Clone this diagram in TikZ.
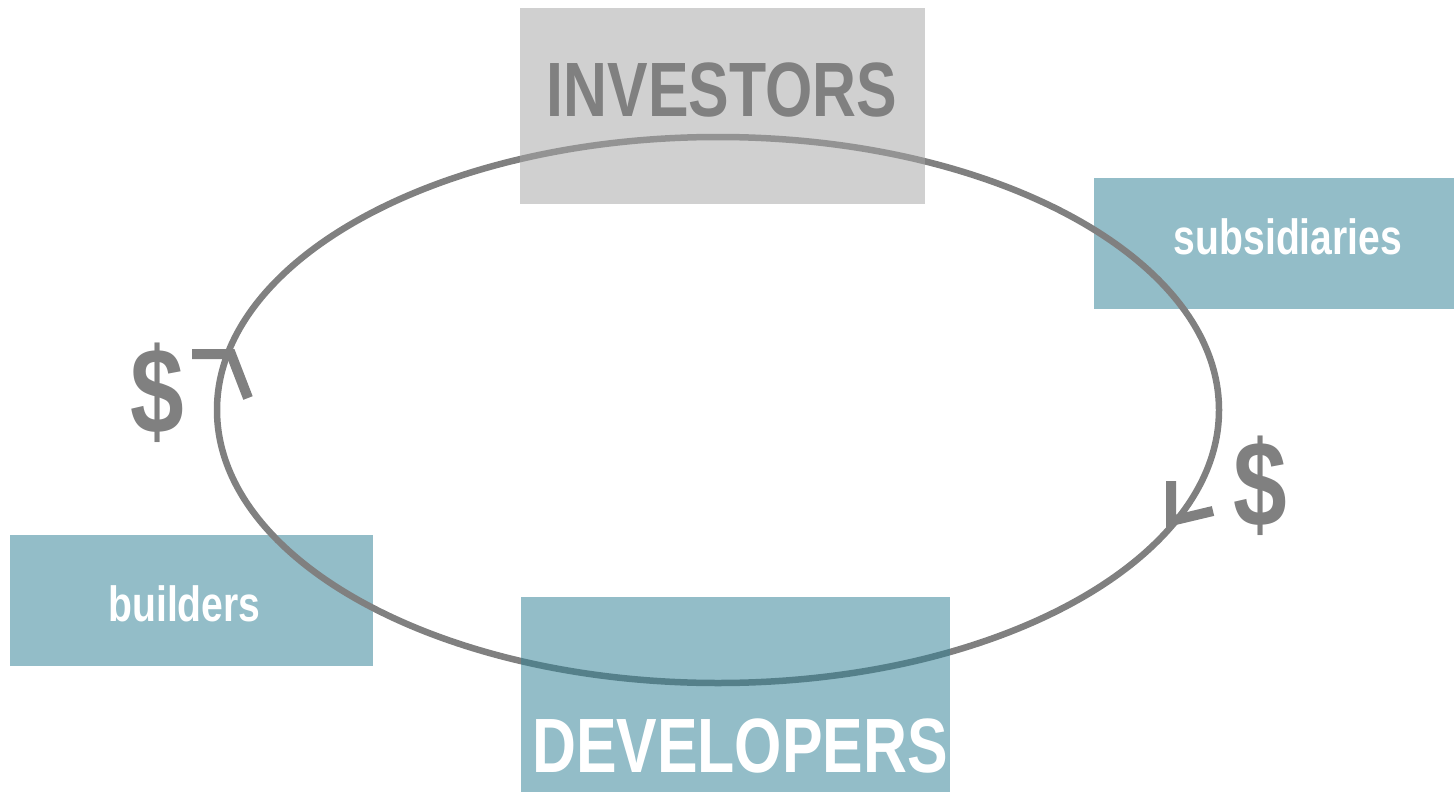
\documentclass[tikz,border=0pt]{standalone}
\usepackage{fontspec}
\setmainfont{Liberation Sans}[FakeStretch=0.79]
\usepackage{tikz}
\definecolor{boxteal}{RGB}{147,189,200}
\definecolor{deepteal}{RGB}{47,128,149}
\definecolor{boxgray}{RGB}{165,165,165}
\definecolor{ringgray}{RGB}{128,128,128}

\begin{document}
\begin{tikzpicture}[x=1pt,y=-1pt]
        \tikzstyle{tealbox}=[fill=boxteal, inner sep=0pt, minimum height=131pt]
        \tikzstyle{glassbox}=[fill opacity=0.52, inner sep=0pt]
        \tikzstyle{ring}=[draw=ringgray, line width=6.5pt]
        \tikzstyle{barb}=[draw=ringgray, line width=10pt]
        \tikzstyle{bigword}=[font=\fontsize{77}{80}\selectfont\bfseries, inner sep=0pt, anchor=base]
        \tikzstyle{smallword}=[font=\fontsize{49.5}{52}\selectfont\bfseries, inner sep=0pt, anchor=base, text=white]
        \tikzstyle{dollar}=[font=\fontsize{122}{126}\selectfont\bfseries, inner sep=0pt, text=ringgray]
        \useasboundingbox (0,0) rectangle (1454,792);
        \node[tealbox, minimum width=363pt] (builders) at (191.5,600.5) {};
        \node[tealbox, minimum width=360pt] (subsidiaries) at (1274,243.5) {};
        \coordinate (hub) at (718,410);
        \draw[ring] (hub) ellipse [x radius=501, y radius=273];
        \coordinate (upTip) at (231,354);
        \coordinate (downTip) at (1171,521);
        \draw[barb] (192,354) -- (upTip) -- (248,398);
        \draw[barb] (1171,481) -- (downTip) -- (1213,511);
        \node[glassbox, fill=boxgray, minimum width=405pt, minimum height=196pt] (investors) at (722.5,106) {};
        \node[glassbox, fill=deepteal, minimum width=429pt, minimum height=195pt] (developers) at (735.5,694.5) {};
        \node[bigword, text=ringgray] (investorsLabel) at (722,117) {INVESTORS};
        \node[bigword, text=white] (developersLabel) at (740,772) {DEVELOPERS};
        \node[smallword] (subsidiariesLabel) at (1288,254) {subsidiaries};
        \node[smallword] (buildersLabel) at (184.5,621) {builders};
        \node[dollar] (leftDollar) at (157,393) {\$};
        \node[dollar] (rightDollar) at (1260,486) {\$};
    \end{tikzpicture}
\end{document}
